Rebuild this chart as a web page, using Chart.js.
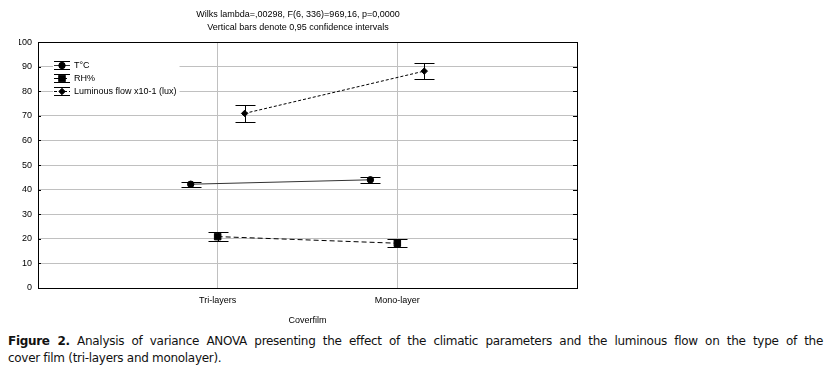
<!DOCTYPE html>
<html>
<head>
<meta charset="utf-8">
<script src="https://cdn.jsdelivr.net/npm/chart.js@4"></script>
<style>
  body { margin: 0; background: #fff; }
  #wrap { position: relative; width: 831px; height: 376px; }
  #myChart { position: absolute; left: 0; top: 0; }
  #caption {
    position: absolute; left: 8px; top: 333px; width: 815px;
    font-family: 'DejaVu Sans', sans-serif;
    font-size: 12px; line-height: 17px; letter-spacing: -0.3px;
    color: #111;
  }
  #caption .first { display: block; white-space: nowrap; text-align: justify; text-align-last: justify; }
</style>
</head>
<body>
<div id="wrap">
  <canvas id="myChart" width="596" height="328"></canvas>
  <div id="caption"><span class="first"><b>Figure 2.</b> Analysis of variance ANOVA presenting the effect of the climatic parameters and the luminous flow on the type of the</span>cover film (tri-layers and monolayer).</div>
</div>
<script>
const categories = ['Tri-layers', 'Mono-layer'];
const seriesNames = ['T°C', 'RH%', 'Luminous flow x10-1 (lux)'];
const tempMeans = [42.2, 44.0];
const tempCI = [1.1, 1.1];
const rhMeans = [20.9, 18.2];
const rhCI = [1.8, 1.6];
const lumMeans = [71.0, 88.2];
const lumCI = [3.3, 3.3];
const xOffsets = [-0.15, 0, 0.15];

const font = "'Liberation Sans', Arial, sans-serif";

function pts(means, off) {
    return means.map((v, i) => ({ x: i + 1 + off, y: v }));
}

const datasets = [
    { label: seriesNames[0], data: pts(tempMeans, xOffsets[0]), ci: tempCI,
      borderColor: '#333', borderDash: [], pointStyle: 'circle', pointRadius: 3.2 },
    { label: seriesNames[1], data: pts(rhMeans, xOffsets[1]), ci: rhCI,
      borderColor: '#000', borderDash: [5, 3], pointStyle: 'rect', pointRadius: 4.6 },
    { label: seriesNames[2], data: pts(lumMeans, xOffsets[2]), ci: lumCI,
      borderColor: '#000', borderDash: [3, 2], pointStyle: 'rectRot', pointRadius: 3.2 }
].map(d => Object.assign(d, {
    showLine: true, borderWidth: 1, backgroundColor: '#000',
    pointBackgroundColor: '#000', pointBorderColor: '#000', pointBorderWidth: 1
}));

// vertical confidence bars
const errorBars = {
    id: 'errorBars',
    afterDatasetsDraw(chart) {
        const ctx = chart.ctx, xs = chart.scales.x, ys = chart.scales.y;
        ctx.save();
        ctx.strokeStyle = '#000';
        ctx.lineWidth = 1;
        chart.data.datasets.forEach(ds => {
            ds.data.forEach((p, i) => {
                const x = Math.round(xs.getPixelForValue(p.x)) + 0.5;
                const top = Math.round(ys.getPixelForValue(p.y + ds.ci[i])) + 0.5;
                const bot = Math.round(ys.getPixelForValue(p.y - ds.ci[i])) + 0.5;
                ctx.beginPath();
                ctx.moveTo(x, top); ctx.lineTo(x, bot);
                ctx.moveTo(x - 10, top); ctx.lineTo(x + 10, top);
                ctx.moveTo(x - 10, bot); ctx.lineTo(x + 10, bot);
                ctx.stroke();
            });
        });
        ctx.restore();
    }
};

// frame, inner ticks and the legend inside the plot
const frameLegend = {
    id: 'frameLegend',
    afterDraw(chart) {
        const ctx = chart.ctx, a = chart.chartArea, ys = chart.scales.y;
        ctx.save();

        const x0 = a.left + 16, x1 = a.left + 32;
        const rows = [23, 36, 48.5];
        ctx.font = '9px ' + font;
        // legend box hides the grid lines behind it
        const textW = Math.max(...chart.data.datasets.map(d => ctx.measureText(d.label).width));
        ctx.fillStyle = '#fff';
        ctx.fillRect(x0 - 1, a.top + 16, x1 + 4 + textW + 3 - (x0 - 1), 39);

        ctx.strokeStyle = '#000';
        ctx.lineWidth = 1;
        ctx.strokeRect(Math.round(a.left) + 0.5, Math.round(a.top) + 0.5,
            Math.round(a.right - a.left), Math.round(a.bottom - a.top));
        ctx.beginPath();
        ys.ticks.forEach(t => {
            const y = Math.round(ys.getPixelForValue(t.value)) + 0.5;
            ctx.moveTo(a.left, y); ctx.lineTo(a.left + 3, y);
            ctx.moveTo(a.right - 4, y); ctx.lineTo(a.right, y);
        });
        ctx.stroke();

        ctx.fillStyle = '#000';
        ctx.textBaseline = 'middle';
        chart.data.datasets.forEach((ds, i) => {
            const y = Math.round(a.top + rows[i]) + 0.5;
            ctx.setLineDash([]);
            ctx.strokeStyle = '#000';
            ctx.beginPath();
            ctx.moveTo(x0, y - 4); ctx.lineTo(x1, y - 4);
            ctx.moveTo(x0, y + 4); ctx.lineTo(x1, y + 4);
            ctx.stroke();
            ctx.setLineDash(ds.borderDash);
            ctx.strokeStyle = ds.borderColor;
            ctx.beginPath();
            ctx.moveTo(x0, y); ctx.lineTo(x1, y);
            ctx.stroke();
            ctx.setLineDash([]);
            ctx.strokeStyle = '#000';
            Chart.helpers.drawPoint(ctx, {
                pointStyle: ds.pointStyle, radius: ds.pointRadius, borderWidth: 1
            }, (x0 + x1) / 2, y);
            ctx.fillText(ds.label, x1 + 4, y);
        });
        ctx.restore();
    }
};

const ctx = document.getElementById('myChart').getContext('2d');

const anovaChart = new Chart(ctx, {
    type: 'scatter',
    data: { datasets: datasets },
    options: {
        responsive: false,
        animation: false,
        devicePixelRatio: 1,
        layout: { padding: { left: 19, right: 19, top: 0, bottom: 0 } },
        plugins: {
            legend: { display: false },
            tooltip: { enabled: false },
            title: {
                display: true,
                text: ['Wilks lambda=,00298, F(6, 336)=969,16, p=0,0000',
                       'Vertical bars denote 0,95 confidence intervals'],
                color: '#000',
                font: { family: font, size: 9, weight: 'normal', lineHeight: 1.45 },
                padding: { top: 8, bottom: 8 }
            }
        },
        scales: {
            x: {
                type: 'linear', min: 0, max: 3,
                afterFit(s) { s.height = 40; },
                ticks: {
                    stepSize: 1, color: '#000', padding: 7,
                    font: { family: font, size: 9 },
                    callback: v => (v === 1 ? categories[0] : v === 2 ? categories[1] : '')
                },
                grid: { color: '#c0c0c0', drawTicks: false },
                border: { color: '#000', width: 1 },
                title: {
                    display: true, text: 'Coverfilm', color: '#000',
                    font: { family: font, size: 9 }, padding: { top: 4, bottom: 2 }
                }
            },
            y: {
                min: 0, max: 100,
                afterFit(s) { s.width = 19; },
                ticks: {
                    stepSize: 10, color: '#000', padding: 6,
                    font: { family: font, size: 9 }
                },
                grid: { color: '#c0c0c0', drawTicks: false },
                border: { color: '#000', width: 1 }
            }
        }
    },
    plugins: [errorBars, frameLegend]
});
</script>
</body>
</html>
